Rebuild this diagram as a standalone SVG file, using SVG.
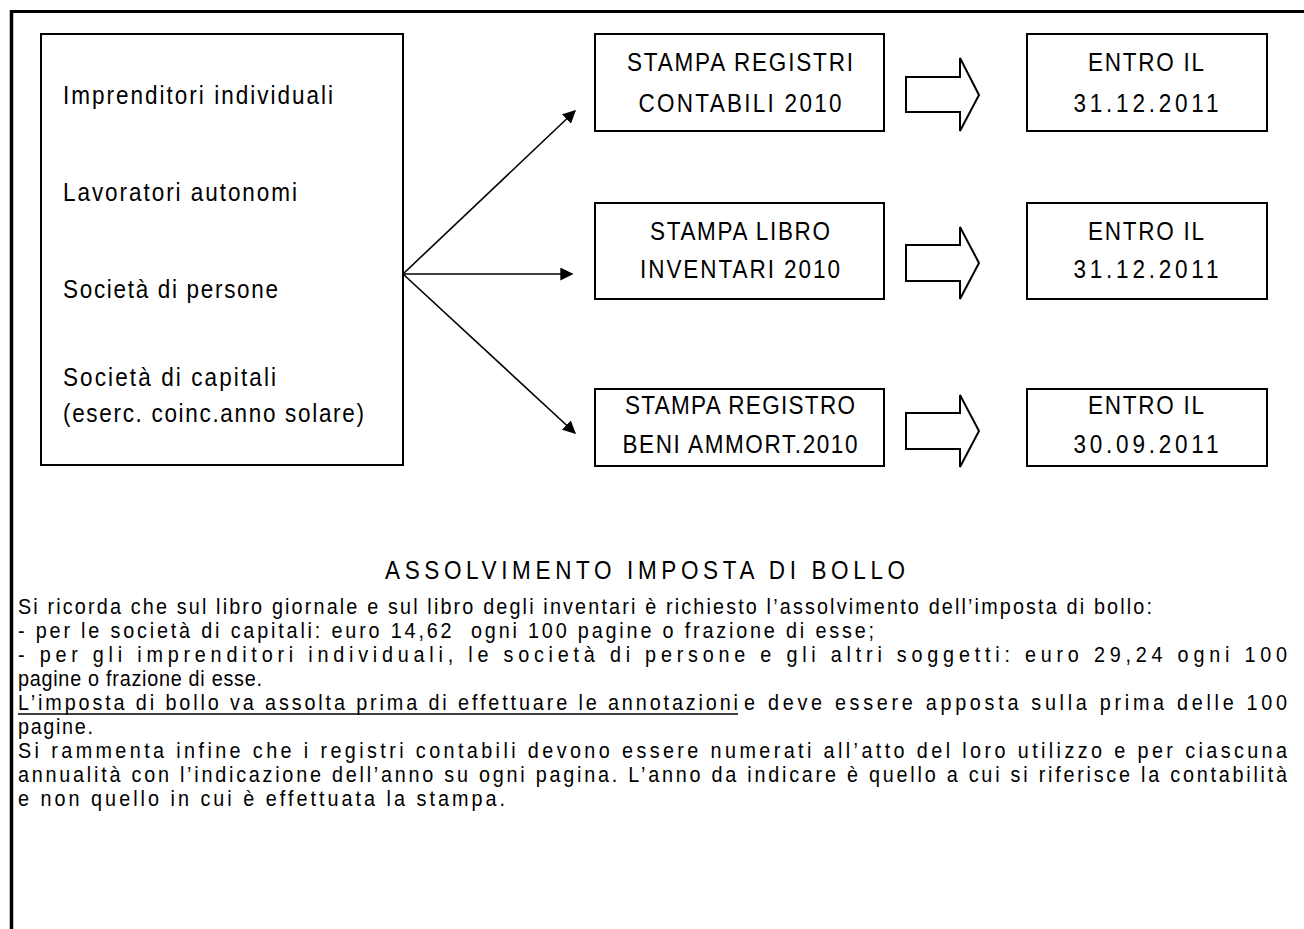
<svg xmlns="http://www.w3.org/2000/svg" width="1304" height="929" viewBox="0 0 1304 929">
<style>
.box{fill:#fff;stroke:#000;stroke-width:2}
.blk{fill:#fff;stroke:#000;stroke-width:2;stroke-linejoin:miter}
.t{font-family:"Liberation Sans",Arial,sans-serif;font-size:25px;fill:#000}
.p{font-family:"Liberation Sans",Arial,sans-serif;font-size:22px;fill:#000}
.c{text-anchor:middle}
.con{stroke:#000;stroke-width:1.6;fill:none}
</style>
<defs>
<marker id="ah" viewBox="0 0 10 10" refX="9" refY="5" markerWidth="13" markerHeight="13" markerUnits="userSpaceOnUse" orient="auto"><path d="M0,0 L10,5 L0,10 z" fill="#000"/></marker>
</defs>
<rect width="1304" height="929" fill="#fff"/>
<g id="page-border">
<line x1="10" y1="11.5" x2="1304" y2="11.5" stroke="#000" stroke-width="3"/>
<line x1="11.5" y1="10" x2="11.5" y2="929" stroke="#000" stroke-width="3.5"/>
</g>
<g id="soggetti">
<rect class="box" x="41" y="34" width="362" height="431"/>
<g transform="scale(0.9,1)">
<text class="t" x="70" y="104" textLength="300" lengthAdjust="spacing">Imprenditori individuali</text>
<text class="t" x="70" y="201" textLength="260" lengthAdjust="spacing">Lavoratori autonomi</text>
<text class="t" x="70" y="298" textLength="238.9" lengthAdjust="spacing">Società di persone</text>
<text class="t" x="70" y="386" textLength="236.7" lengthAdjust="spacing">Società di capitali</text>
<text class="t" x="70" y="422" textLength="334.4" lengthAdjust="spacing">(eserc. coinc.anno solare)</text>
</g>
</g>
<g id="connectors">
<line class="con" x1="403" y1="274" x2="575" y2="111" marker-end="url(#ah)"/>
<line class="con" x1="403" y1="274" x2="572" y2="274" marker-end="url(#ah)"/>
<line class="con" x1="403" y1="274" x2="575" y2="433" marker-end="url(#ah)"/>
</g>
<g id="stampa-registri">
<rect class="box" x="595" y="34" width="289" height="97"/>
<g transform="scale(0.9,1)">
<text class="t c" x="822.2" y="71" textLength="251.1" lengthAdjust="spacing">STAMPA REGISTRI</text>
<text class="t c" x="822.2" y="112" textLength="225.6" lengthAdjust="spacing">CONTABILI 2010</text>
</g>
</g>
<g id="stampa-libro">
<rect class="box" x="595" y="203" width="289" height="96"/>
<g transform="scale(0.9,1)">
<text class="t c" x="822.2" y="240" textLength="200" lengthAdjust="spacing">STAMPA LIBRO</text>
<text class="t c" x="822.2" y="278" textLength="222.2" lengthAdjust="spacing">INVENTARI 2010</text>
</g>
</g>
<g id="stampa-beni">
<rect class="box" x="595" y="389" width="289" height="77"/>
<g transform="scale(0.9,1)">
<text class="t c" x="822.2" y="414" textLength="255.6" lengthAdjust="spacing">STAMPA REGISTRO</text>
<text class="t c" x="822.2" y="453" textLength="261.1" lengthAdjust="spacing">BENI AMMORT.2010</text>
</g>
</g>
<g id="freccia-1"><polygon class="blk" points="906,77 960,77 960,58 979,95 960,131 960,112 906,112"/></g>
<g id="freccia-2"><polygon class="blk" points="906,245 960,245 960,227 979,263 960,299 960,281 906,281"/></g>
<g id="freccia-3"><polygon class="blk" points="906,413 960,413 960,395 979,431 960,467 960,449 906,449"/></g>
<g id="entro-1">
<rect class="box" x="1027" y="34" width="240" height="97"/>
<g transform="scale(0.9,1)">
<text class="t c" x="1273.3" y="71" textLength="128.9" lengthAdjust="spacing">ENTRO IL</text>
<text class="t c" x="1273.3" y="112" textLength="161.1" lengthAdjust="spacing">31.12.2011</text>
</g>
</g>
<g id="entro-2">
<rect class="box" x="1027" y="203" width="240" height="96"/>
<g transform="scale(0.9,1)">
<text class="t c" x="1273.3" y="240" textLength="128.9" lengthAdjust="spacing">ENTRO IL</text>
<text class="t c" x="1273.3" y="278" textLength="161.1" lengthAdjust="spacing">31.12.2011</text>
</g>
</g>
<g id="entro-3">
<rect class="box" x="1027" y="389" width="240" height="77"/>
<g transform="scale(0.9,1)">
<text class="t c" x="1273.3" y="414" textLength="128.9" lengthAdjust="spacing">ENTRO IL</text>
<text class="t c" x="1273.3" y="453" textLength="161.1" lengthAdjust="spacing">30.09.2011</text>
</g>
</g>
<g id="testo">
<line x1="18" y1="714" x2="738" y2="714" stroke="#000" stroke-width="1.5"/>
<g transform="scale(0.9,1)">
<text class="t" x="427.8" y="579" textLength="577.8" lengthAdjust="spacing">ASSOLVIMENTO IMPOSTA DI BOLLO</text>
<text class="p" x="20" y="614" textLength="1260" lengthAdjust="spacing">Si ricorda che sul libro giornale e sul libro degli inventari è richiesto l’assolvimento dell’imposta di bollo:</text>
<text class="p" x="20" y="638" textLength="951.1" lengthAdjust="spacing">- per le società di capitali: euro 14,62&#160; ogni 100 pagine o frazione di esse;</text>
<text class="p" x="20" y="662" textLength="1410" lengthAdjust="spacing">- per gli imprenditori individuali, le società di persone e gli altri soggetti: euro 29,24 ogni 100</text>
<text class="p" x="20" y="686" textLength="271.1" lengthAdjust="spacing">pagine o frazione di esse.</text>
<text class="p" x="20" y="710" textLength="800" lengthAdjust="spacing">L’imposta di bollo va assolta prima di effettuare le annotazioni</text>
<text class="p" x="826.7" y="710" textLength="603.3" lengthAdjust="spacing">e deve essere apposta sulla prima delle 100</text>
<text class="p" x="20" y="734" textLength="83.3" lengthAdjust="spacing">pagine.</text>
<text class="p" x="20" y="758" textLength="1410" lengthAdjust="spacing">Si rammenta infine che i registri contabili devono essere numerati all’atto del loro utilizzo e per ciascuna</text>
<text class="p" x="20" y="782" textLength="1410" lengthAdjust="spacing">annualità con l’indicazione dell’anno su ogni pagina. L’anno da indicare è quello a cui si riferisce la contabilità</text>
<text class="p" x="20" y="806" textLength="541.1" lengthAdjust="spacing">e non quello in cui è effettuata la stampa.</text>
</g>
</g>
</svg>
